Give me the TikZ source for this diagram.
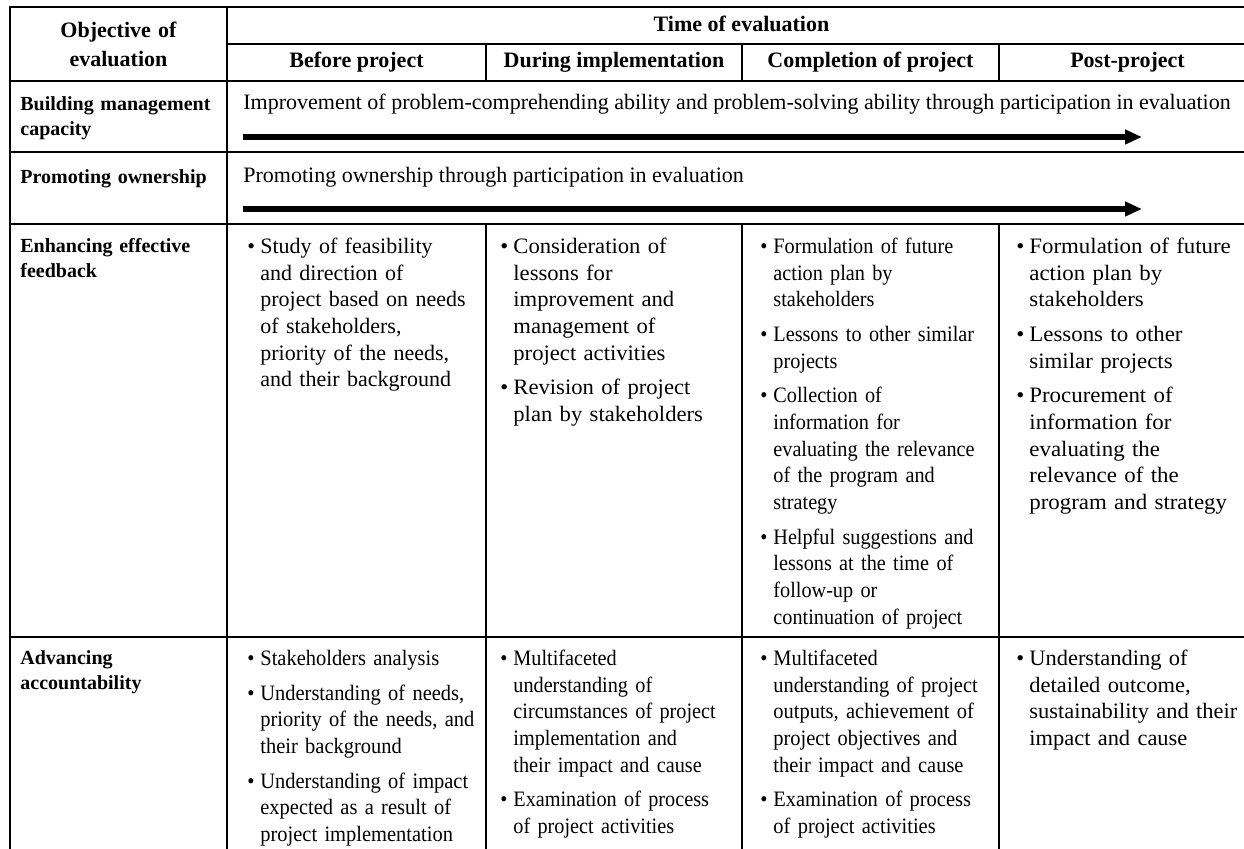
\documentclass[tikz,border=0pt]{standalone}
\usepackage{fontspec}
\setmainfont{Liberation Serif}
\usetikzlibrary{arrows.meta,positioning}

\newcommand\itm[1]{\par\hangindent=6.5pt\hangafter=1\noindent\strut\hbox to 6.5pt{\textbullet\hfil}#1\par\vspace{4pt}}

\begin{document}
\begin{tikzpicture}[x=0.5pt,y=-0.5pt,
  frame/.style={line width=1.4pt},
  rule/.style={line width=0.6pt},
  flow/.style={line width=2.6pt,-{Triangle[length=8.5pt,width=7pt]}},
  colhead/.style={inner sep=0pt,font=\fontsize{11}{14.5}\selectfont\bfseries},
  rowhead/.style={anchor=north west,inner sep=0pt,text width=105pt,align=left,font=\fontsize{10}{12.5}\selectfont\bfseries},
  txt/.style={anchor=base west,inner sep=0pt,font=\fontsize{11}{13.33}\selectfont},
  cell/.style={anchor=north west,inner sep=0pt,text width=124pt,align=left,
    font=\fontsize{11}{13.33}\selectfont\addfontfeature{FakeStretch=#1}},
  cell/.default=1]

\useasboundingbox (0,0) rectangle (1244,849);
\clip (0,0) rectangle (1244,849);

% table rules
\draw[frame] (1256,7) -- (10,7) -- (10,849);
\draw[rule] (227,7) -- (227,849);
\draw[rule] (227,44) -- (1256,44);
\foreach \y in {81,152,224,637} \draw[rule] (10,\y) -- (1256,\y);
\foreach \x in {486,742,999} {
  \draw[rule] (\x,44) -- (\x,81);
  \draw[rule] (\x,224) -- (\x,849);
}

% header
\node (obj) [colhead,anchor=north,text width=100pt,align=center] at (118.5,16.7) {\strut Objective of\\evaluation};
\node (toe) [colhead,anchor=base] at (741.5,32) {Time of evaluation};
\node (bp) [colhead,anchor=base] at (356.5,68) {Before project};
\node (di) [colhead,anchor=base] at (614,68) {During implementation};
\node (cp) [colhead,anchor=base] at (870.5,68) {Completion of project};
\node (pp) [colhead,anchor=base] at (1127.5,68) {Post-project};

% row heads
\node (bm) [rowhead] at (20,92.5) {\strut Building management\newline capacity};
\node (po) [rowhead] at (20,165.5) {\strut Promoting ownership};
\node (ee) [rowhead] at (20,234.5) {\strut Enhancing effective\newline feedback};
\node (aa) [rowhead] at (20,646.5) {\strut Advancing\newline accountability};

% spanning rows
\node (bmtxt) [txt] at (243,110) {Improvement of problem-comprehending ability and problem-solving ability through participation in evaluation};
\coordinate (bmS) at (243,137);
\coordinate (bmE) at (1142,137);
\draw[flow] (bmS) -- (bmE);

\node (potxt) [txt] at (243,183) {Promoting ownership through participation in evaluation};
\coordinate (poS) at (243,209);
\coordinate (poE) at (1142,209);
\draw[flow] (poS) -- (poE);

% feedback row
\node (ee1) [cell] at (247,226.5) {\itm{Study of feasibility\newline and direction of\newline project based on needs\newline of stakeholders,\newline priority of the needs,\newline and their background}};
\node (ee2) [cell=1.03] at (500,226.5) {\itm{Consideration of\newline lessons for\newline improvement and\newline management of\newline project activities}\itm{Revision of project\newline plan by stakeholders}};
\node (ee3) [cell=0.92] at (760,226.5) {\itm{Formulation of future\newline action plan by\newline stakeholders}\itm{Lessons to other similar\newline projects}\itm{Collection of\newline information for\newline evaluating the relevance\newline of the program and\newline strategy}\itm{Helpful suggestions and\newline lessons at the time of\newline follow-up or\newline continuation of project}};
\node (ee4) [cell=1.04] at (1016,226.5) {\itm{Formulation of future\newline action plan by\newline stakeholders}\itm{Lessons to other\newline similar projects}\itm{Procurement of\newline information for\newline evaluating the\newline relevance of the\newline program and strategy}};

% accountability row
\node (aa1) [cell=0.93] at (247,638.5) {\itm{Stakeholders analysis}\itm{Understanding of needs,\newline priority of the needs, and\newline their background}\itm{Understanding of impact\newline expected as a result of\newline project implementation}};
\node (aa2) [cell=0.92] at (500,638.5) {\itm{Multifaceted\newline understanding of\newline circumstances of project\newline implementation and\newline their impact and cause}\itm{Examination of process\newline of project activities}};
\node (aa3) [cell=0.93] at (760,638.5) {\itm{Multifaceted\newline understanding of project\newline outputs, achievement of\newline project objectives and\newline their impact and cause}\itm{Examination of process\newline of project activities}};
\node (aa4) [cell=1.02] at (1016,638.5) {\itm{Understanding of\newline detailed outcome,\newline sustainability and their\newline impact and cause}};
\end{tikzpicture}
\end{document}
